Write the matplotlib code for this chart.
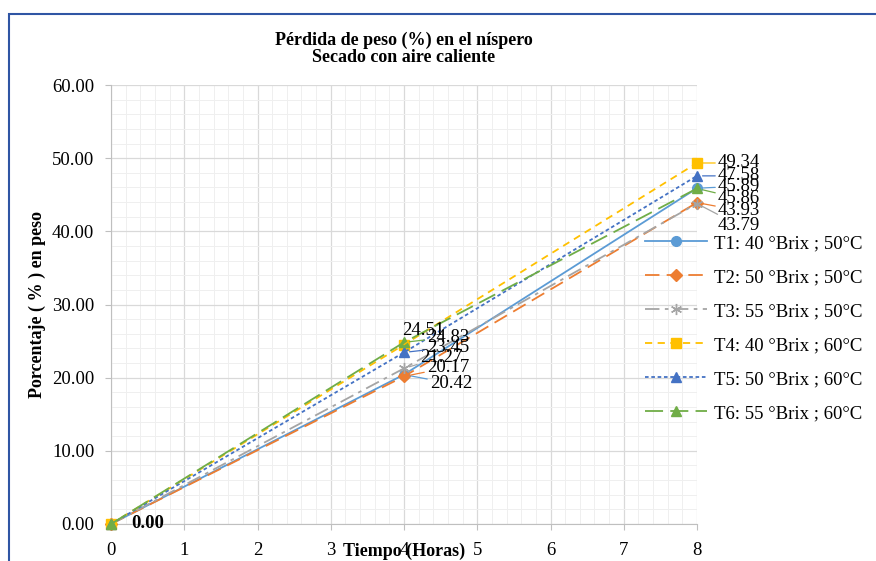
import matplotlib.pyplot as plt
from matplotlib.patches import Rectangle
from matplotlib.ticker import MultipleLocator, FormatStrFormatter

plt.rcParams['font.family'] = ['Liberation Serif', 'DejaVu Serif']

# data
tiempo = [0, 4, 8]
series_names = ["T1: 40 °Brix ; 50°C", "T2: 50 °Brix ; 50°C", "T3: 55 °Brix ; 50°C",
                "T4: 40 °Brix ; 60°C", "T5: 50 °Brix ; 60°C", "T6: 55 °Brix ; 60°C"]
t1 = [0.00, 20.42, 45.89]
t2 = [0.00, 20.17, 43.93]
t3 = [0.00, 21.27, 43.79]
t4 = [0.00, 24.51, 49.34]
t5 = [0.00, 23.45, 47.58]
t6 = [0.00, 24.83, 45.86]
valores = [t1, t2, t3, t4, t5, t6]

# styles
colores = ['#5B9BD5', '#ED7D31', '#A5A5A5', '#FFC000', '#4472C4', '#70AD47']
marcadores = ['o', 'D', (6, 2, 0), 's', '^', '^']
tam_marc = [7, 6, 8, 7, 7, 7]
estilos = ['-', (0, (8, 4)), (0, (8, 3, 2, 3)), (0, (4, 3)), (0, (2, 1.5)), (0, (10, 4))]

# label offsets in pixels (dx, dy) for t=4 and t=8
off4 = [(26, -9), (23, 9), (16, 11), (-2, 14), (23, 5), (23, 5)]
off8 = [(21, 2), (21, -8), (21, -22), (21, 0), (21, 0), (21, -10)]

fig = plt.figure(figsize=(8.76, 5.61), dpi=100)
ax = fig.add_axes([111/876, 1-524/561, (697-111)/876, (524-85)/561])

for i in range(6):
    ax.plot(tiempo, valores[i], color=colores[i], linestyle=estilos[i], linewidth=1.3,
            marker=marcadores[i], markersize=tam_marc[i], markerfacecolor=colores[i],
            markeredgecolor=colores[i], label=series_names[i], clip_on=False, zorder=3)

for i in range(6):
    for xi, off in ((1, off4[i]), (2, off8[i])):
        ax.annotate(f"{valores[i][xi]:.2f}", (tiempo[xi], valores[i][xi]), xytext=off,
                    textcoords='offset pixels', fontsize=13.5, va='center', ha='left',
                    arrowprops=dict(arrowstyle='-', color=colores[i], lw=0.9,
                                    shrinkA=0, shrinkB=4), zorder=5)

ax.annotate(f"{t1[0]:.2f}", (tiempo[0], t1[0]), xytext=(20, 0), textcoords='offset pixels',
            fontsize=13.5, fontweight='bold', va='center', ha='left')

ax.set_xlim(0, 8)
ax.set_ylim(0, 60)
ax.xaxis.set_major_locator(MultipleLocator(1))
ax.xaxis.set_minor_locator(MultipleLocator(0.2))
ax.yaxis.set_major_locator(MultipleLocator(10))
ax.yaxis.set_minor_locator(MultipleLocator(2))
ax.yaxis.set_major_formatter(FormatStrFormatter('%.2f'))
ax.grid(which='major', color='#d9d9d9', linewidth=0.9)
ax.grid(which='minor', color='#efefef', linewidth=0.7)
ax.set_axisbelow(True)
for s in ['top', 'right']:
    ax.spines[s].set_visible(False)
for s in ['left', 'bottom']:
    ax.spines[s].set_color('#bfbfbf')
ax.tick_params(which='major', length=4, color='#bfbfbf', labelsize=13.5)
ax.tick_params(axis='x', pad=9)
ax.tick_params(axis='y', pad=8)
ax.tick_params(which='minor', length=0)

ax.set_ylabel("Porcentaje ( % ) en peso", fontsize=13, fontweight='bold')
ax.yaxis.set_label_coords(-0.111, 0.5)
ax.set_xlabel("Tiempo (Horas)", fontsize=13, fontweight='bold', va='center')
ax.xaxis.set_label_coords(0.5, -0.063)

fig.text(404/876, 1-49/561, "Pérdida de peso (%) en el níspero\nSecado con aire caliente",
         ha='center', va='center', fontsize=13, fontweight='bold', linespacing=1.05)

leg = fig.legend(loc='upper left', bbox_to_anchor=(628/876, 1-218/561), frameon=False,
                 fontsize=13.5, handlelength=3.3, labelspacing=0.9, handletextpad=0.4)

fig.patches.append(Rectangle((9/876, -0.05), 1.0, 1-14/561+0.05, transform=fig.transFigure,
                             fill=False, edgecolor='#2f55a4', linewidth=1.5))

fig.savefig("out.png", dpi=100)
